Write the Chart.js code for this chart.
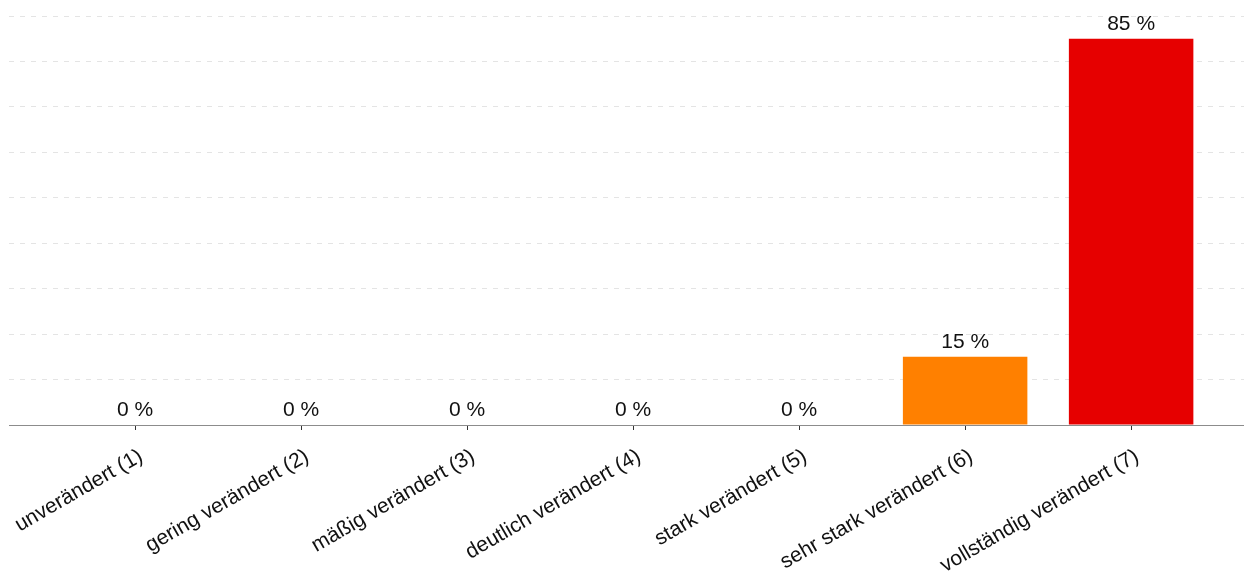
<!DOCTYPE html>
<html>
<head>
<meta charset="utf-8">
<script src="https://cdn.jsdelivr.net/npm/chart.js@4/dist/chart.umd.min.js"></script>
<style>
  html, body { margin: 0; padding: 0; background: #fff; }
</style>
</head>
<body>
<canvas id="myChart" width="1244" height="574"></canvas>
<script>
// Kategorien und Werte (Prozent)
const categories = [
    'unverändert (1)',
    'gering verändert (2)',
    'mäßig verändert (3)',
    'deutlich verändert (4)',
    'stark verändert (5)',
    'sehr stark verändert (6)',
    'vollständig verändert (7)'
];
const percentValues = [0, 0, 0, 0, 0, 15, 85];
const barColors = ['#1a9641', '#77c35c', '#c4e687', '#ffffbf', '#fec980', '#ff8000', '#e60000'];
const yTicks = [0, 10, 20, 30, 40, 50, 60, 70, 80, 90];

// Prozentwerte über den Balken
const valueLabels = {
    id: 'valueLabels',
    afterDatasetsDraw(chart) {
        const ctx = chart.ctx;
        const meta = chart.getDatasetMeta(0);
        ctx.save();
        ctx.font = '21px "Liberation Sans", Arial, sans-serif';
        ctx.fillStyle = '#111';
        ctx.textAlign = 'center';
        ctx.textBaseline = 'alphabetic';
        meta.data.forEach((bar, i) => {
            ctx.fillText(percentValues[i] + ' %', bar.x, bar.y - 9);
        });
        ctx.restore();
    }
};

const ctx = document.getElementById('myChart').getContext('2d');
const myChart = new Chart(ctx, {
    type: 'bar',
    data: {
        datasets: [{
            data: percentValues.map((v, i) => ({ x: i, y: v })),
            backgroundColor: barColors,
            borderWidth: 0,
            categoryPercentage: 1,
            barPercentage: 0.75
        }]
    },
    options: {
        responsive: false,
        animation: false,
        layout: { padding: { left: 9, top: 16, right: 0, bottom: 0 } },
        plugins: {
            legend: { display: false },
            tooltip: { enabled: false }
        },
        scales: {
            x: {
                type: 'linear',
                offset: false,
                min: -0.76,
                max: 6.68,
                afterFit: (scale) => {
                    scale.height = 149;
                    scale.paddingLeft = 0;
                    scale.paddingRight = 0;
                },
                grid: {
                    offset: false,
                    drawOnChartArea: false,
                    drawTicks: true,
                    tickLength: 5,
                    color: '#333'
                },
                border: { display: true, color: '#8c8c8c', width: 1 },
                ticks: {
                    stepSize: 1,
                    includeBounds: false,
                    autoSkip: false,
                    minRotation: 30,
                    maxRotation: 30,
                    padding: 14,
                    labelOffset: 6,
                    color: '#111',
                    font: { family: '"Liberation Sans", Arial, sans-serif', size: 21 },
                    callback: (value) => Number.isInteger(value) && categories[value] ? categories[value] : ''
                }
            },
            y: {
                min: yTicks[0],
                max: yTicks[yTicks.length - 1],
                afterFit: (scale) => { scale.width = 0; },
                ticks: { display: false, stepSize: 10 },
                grid: { color: '#e4e4e4', drawTicks: false, lineWidth: 1 },
                border: { display: false, dash: [5, 6] }
            }
        }
    },
    plugins: [valueLabels]
});
</script>
</body>
</html>
